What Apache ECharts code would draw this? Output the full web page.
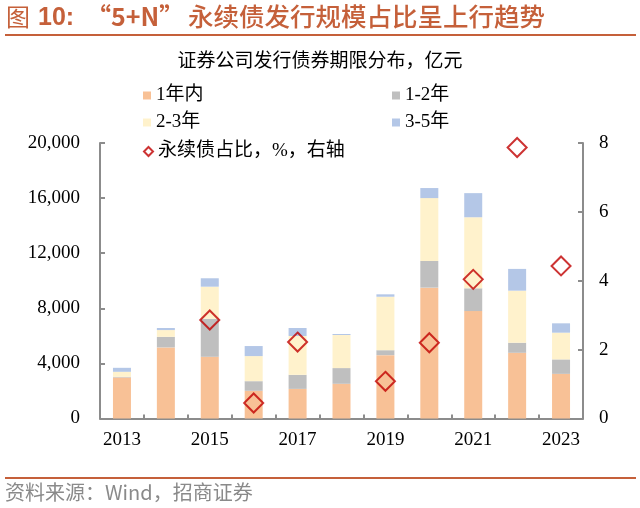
<!DOCTYPE html>
<html><head><meta charset="utf-8">
<script src="https://cdn.jsdelivr.net/npm/echarts@6/dist/echarts.min.js"></script>
<style>html,body{margin:0;padding:0;background:#fff}#c{width:640px;height:508px}</style>
</head><body><div id="c"></div>
<script>
const years = ['2013','2014','2015','2016','2017','2018','2019','2020','2021','2022','2023'];
const within1 = [2980, 5160, 4480, 2010, 2150, 2520, 4600, 9500, 7800, 4770, 3240];
const y1to2   = [50,   770,  2760, 700,  1020, 1140, 360,  1940, 1650, 730,  1050];
const y2to3   = [360,  490,  2330, 1820, 2820, 2400, 3880, 4560, 5160, 3780, 1940];
const y3to5   = [290,  150,  610,  730,  580,  75,   175,  730,  1750, 1580, 680];
const perpShare = [null, null, 2.86, 0.45, 2.22, null, 1.08, 2.20, 4.04, 7.87, 4.43];
const leftTicks = [0, 4000, 8000, 12000, 16000, 20000];
const rightTicks = [0, 2, 4, 6, 8];

const SERIF = '"Liberation Serif","Noto Sans CJK SC",serif';
const CJK = '"Noto Sans CJK SC",sans-serif';
const ORANGE_T = '#C5603A';
const colors = ['#F8C196', '#BFBFBF', '#FFF2CC', '#B4C7E7'];
const names = ['1年内', '1-2年', '2-3年', '3-5年'];
const lineName = '永续债占比，%，右轴';
const barData = [within1, y1to2, y2to3, y3to5];

const chart = echarts.init(document.getElementById('c'), null, {renderer: 'canvas'});
const legendText = {fontFamily: SERIF, fontSize: 19, color: '#000'};
function lg(name, left, top, extra) {
  return Object.assign({
    data: [name], left: left, top: top, padding: 0, itemGap: 0,
    itemWidth: 8, itemHeight: 8, icon: 'rect', textStyle: legendText, selectedMode: false
  }, extra || {});
}
chart.setOption({
  animation: false,
  backgroundColor: '#fff',
  title: {
    text: '证券公司发行债券期限分布，亿元', left: 'center', top: 45,
    textStyle: {fontFamily: CJK, fontSize: 19, fontWeight: 'normal', color: '#000'}
  },
  graphic: [
    {type: 'text', left: 6, top: 5, style: {text: '图', font: '24px "Noto Sans CJK SC", sans-serif', fill: ORANGE_T}},
    {type: 'text', left: 38, top: 6, style: {text: '10:', font: 'bold 25px "Liberation Sans", sans-serif', fill: ORANGE_T}},
    {type: 'text', left: 86, top: 4, style: {text: '“5+N”', font: 'bold 25px "Noto Sans CJK SC", sans-serif', fill: ORANGE_T}},
    {type: 'text', left: 188, top: 4, style: {text: '永续债发行规模占比呈上行趋势', font: '500 25.5px "Noto Sans CJK SC", sans-serif', fill: ORANGE_T}},
    {type: 'line', shape: {x1: 5, y1: 35, x2: 636, y2: 35}, style: {stroke: ORANGE_T, lineWidth: 2}},
    {type: 'line', shape: {x1: 5, y1: 478, x2: 636, y2: 478}, style: {stroke: ORANGE_T, lineWidth: 2}},
    {type: 'text', left: 5, top: 482, style: {text: '资料来源：Wind，招商证券', font: '20px "Noto Sans CJK SC", sans-serif', fill: '#8a8a8a'}}
  ],
  legend: [
    lg(names[0], 143, 86),
    lg(names[1], 392, 86),
    lg(names[2], 143, 113),
    lg(names[3], 392, 113),
    lg(lineName, 143, 142, {icon: 'diamond', itemWidth: 9, itemHeight: 9,
      data: [{name: lineName, itemStyle: {color: '#fff', borderColor: '#C00000', borderWidth: 2}}]})
  ],
  grid: {left: 100, right: 57, top: 143, bottom: 89.5, containLabel: false},
  xAxis: {
    type: 'category', data: years,
    axisLine: {lineStyle: {color: '#8c8c8c', width: 2}},
    axisTick: {show: true, inside: true, length: 4, interval: 0, lineStyle: {color: '#8c8c8c', width: 2}},
    axisLabel: {interval: 1, margin: 12, fontFamily: SERIF, fontSize: 19, color: '#000'}
  },
  yAxis: [
    {type: 'value', min: leftTicks[0], max: leftTicks[leftTicks.length - 1], interval: 4000,
      axisLine: {show: true, lineStyle: {color: '#8c8c8c', width: 2}},
      axisTick: {show: true, inside: true, length: 5, lineStyle: {color: '#8c8c8c', width: 2}},
      splitLine: {show: false},
      axisLabel: {margin: 20, fontFamily: SERIF, fontSize: 19, color: '#000',
        formatter: v => v.toLocaleString('en-US')}},
    {type: 'value', min: rightTicks[0], max: rightTicks[rightTicks.length - 1], interval: 2, position: 'right',
      axisLine: {show: true, lineStyle: {color: '#8c8c8c', width: 2}},
      axisTick: {show: true, inside: true, length: 5, lineStyle: {color: '#8c8c8c', width: 2}},
      splitLine: {show: false},
      axisLabel: {margin: 16, fontFamily: SERIF, fontSize: 19, color: '#000'}}
  ],
  series: names.map((n, i) => ({
    name: n, type: 'bar', stack: 'total', data: barData[i], barWidth: 18,
    itemStyle: {color: colors[i]}, yAxisIndex: 0
  })).concat([{
    name: lineName, type: 'scatter', yAxisIndex: 1, data: perpShare,
    symbol: 'diamond', symbolSize: 19, z: 5,
    itemStyle: {color: 'rgba(255,255,255,0)', borderColor: '#C00000', borderWidth: 2}
  }])
});
</script>
</body></html>
